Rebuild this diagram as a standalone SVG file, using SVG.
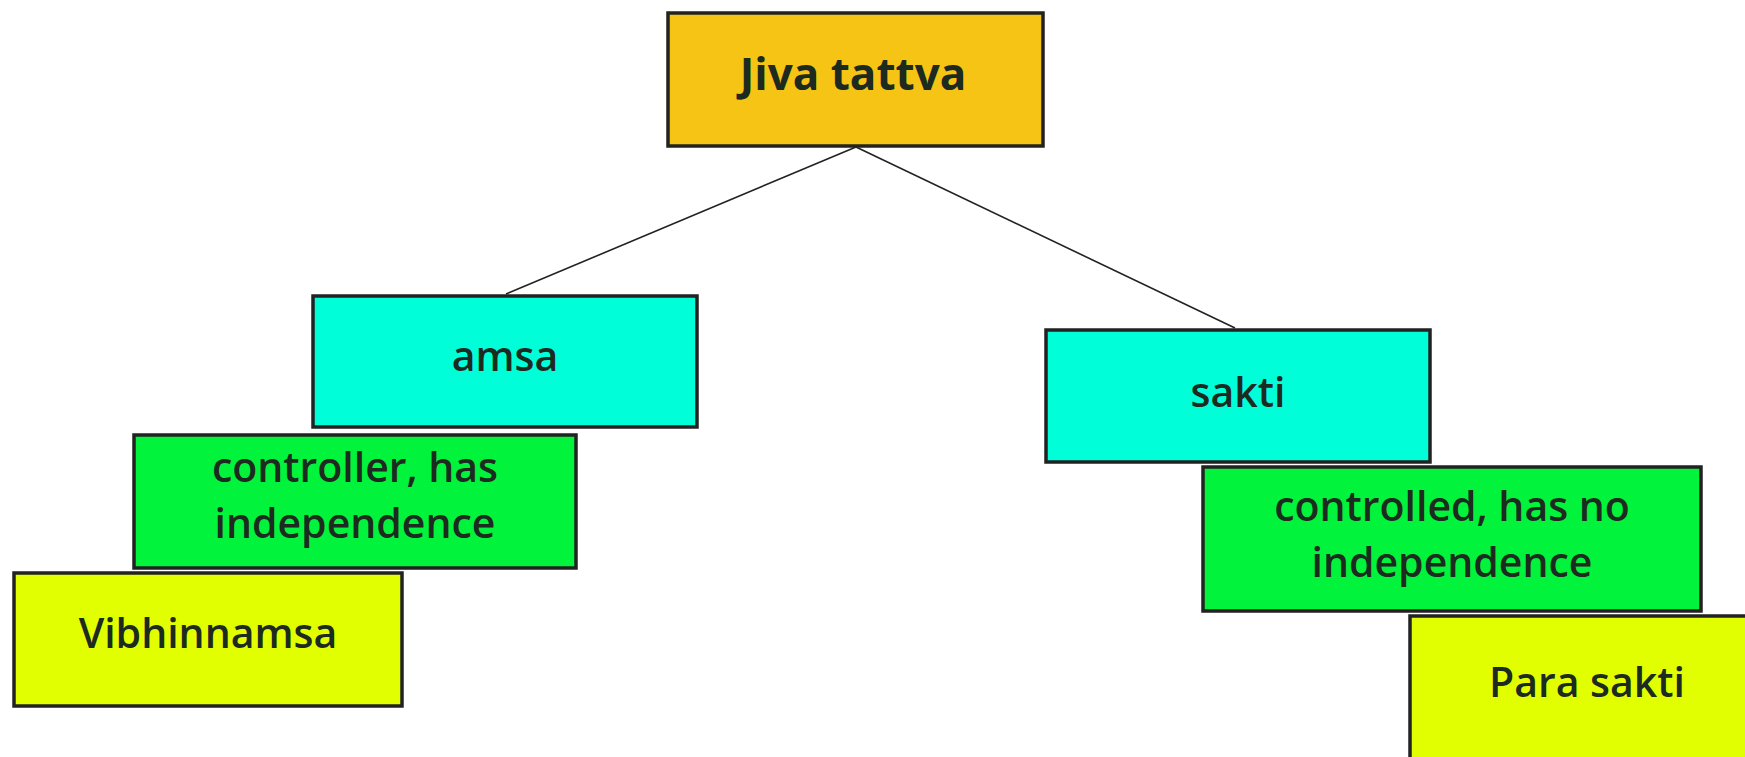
<svg xmlns="http://www.w3.org/2000/svg" width="1745" height="757" viewBox="0 0 1745 757">
<style>
.box{stroke:#222;stroke-width:3.5}
.t{font-family:"Open Sans","Noto Sans",sans-serif;font-weight:600;font-size:41px;fill:#1c2a1f;text-anchor:middle}
.big{font-size:44px;font-weight:700}
.edge{stroke:#222;stroke-width:1.6;fill:none}
</style>
<rect width="1745" height="757" fill="#ffffff"/>
<g id="connectors">
<line class="edge" x1="856" y1="147" x2="506" y2="294"/>
<line class="edge" x1="856" y1="147" x2="1235" y2="328"/>
</g>
<g id="jiva">
<rect class="box" x="668" y="13" width="375" height="133" fill="#f5c414"/>
<text class="t big" x="853" y="90">Jiva tattva</text>
</g>
<g id="amsa">
<rect class="box" x="313" y="296" width="384" height="131" fill="#00ffd9"/>
<text class="t" x="505" y="371">amsa</text>
</g>
<g id="controller">
<rect class="box" x="134" y="435" width="442" height="133" fill="#02f33b"/>
<text class="t" x="355" y="482">controller, has</text>
<text class="t" x="355" y="538">independence</text>
</g>
<g id="vibhinnamsa">
<rect class="box" x="14" y="573" width="388" height="133" fill="#e1ff00"/>
<text class="t" x="208" y="648">Vibhinnamsa</text>
</g>
<g id="sakti">
<rect class="box" x="1046" y="330" width="384" height="132" fill="#00ffd9"/>
<text class="t" x="1238" y="407">sakti</text>
</g>
<g id="controlled">
<rect class="box" x="1203" y="467" width="498" height="144" fill="#02f33b"/>
<text class="t" x="1452" y="521">controlled, has no</text>
<text class="t" x="1452" y="577">independence</text>
</g>
<g id="parasakti">
<rect class="box" x="1410" y="616" width="350" height="160" fill="#e1ff00"/>
<text class="t" x="1587" y="697">Para sakti</text>
</g>
</svg>
